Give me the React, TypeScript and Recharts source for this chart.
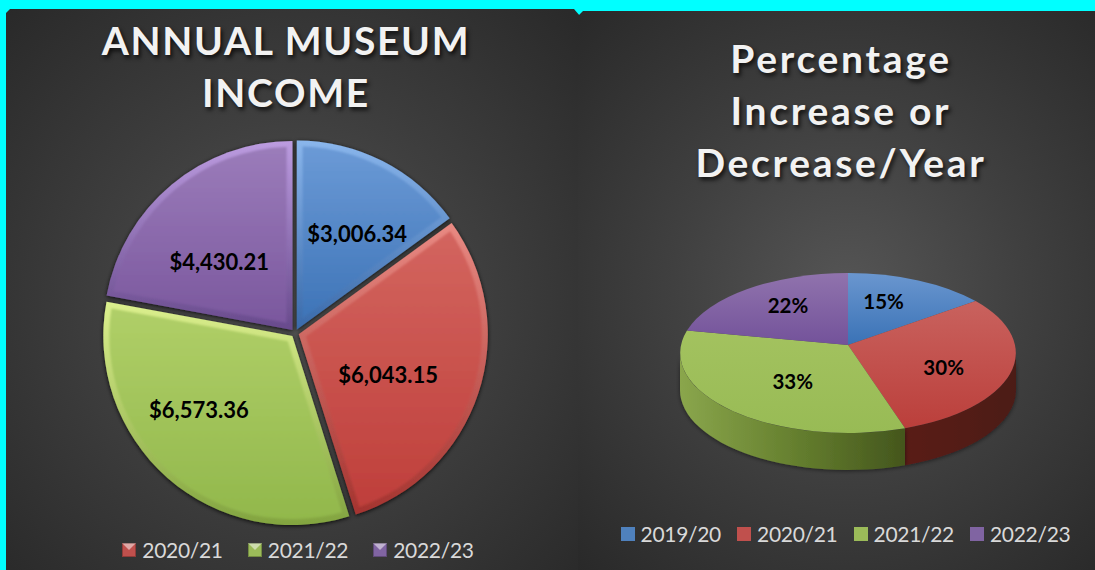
import { Legend, Pie, PieChart } from "recharts";

// Two pies on one dark slide: a bevelled, exploded income pie on the left and a
// tilted 3D percentage pie on the right. The bevel and the tilt are custom Pie
// shapes, the angles still come from the library.

const INCOME_YEARS = ["2019/20", "2020/21", "2021/22", "2022/23"];
const INCOME_VALUES = [3006.34, 6043.15, 6573.36, 4430.21];
const INCOME_LABELS = ["$3,006.34", "$6,043.15", "$6,573.36", "$4,430.21"];

const CHANGE_YEARS = ["2019/20", "2020/21", "2021/22", "2022/23"];
const CHANGE_VALUES = [15, 30, 33, 22];
const CHANGE_LABELS = ["15%", "30%", "33%", "22%"];

const COLORS = ["#4f81bd", "#c0504d", "#9bbb59", "#8064a2"];
const FONT = "Lato, Carlito, 'Open Sans', sans-serif";

// [top, bottom] of each slice face
const FACE = [
  ["#6b9ad6", "#3f75b8"],
  ["#d3655f", "#bf3f3b"],
  ["#b0cf68", "#92b84c"],
  ["#9b7cba", "#7b589e"],
];
const RIM = [
  ["#8ab6ec", "#3a6aaa"],
  ["#e98a83", "#a43430"],
  ["#dcf08e", "#82a440"],
  ["#bc9ce0", "#684a8c"],
];
const FLAT_FACE = [
  ["#6a96cf", "#3a72b6"],
  ["#c9625e", "#bb3f3b"],
  ["#a3c25f", "#98bb55"],
  ["#9073ad", "#73529a"],
];

// label placement: fraction of the radius, and degrees away from the slice middle
const INCOME_LABEL_RADIUS = [0.62, 0.54, 0.65, 0.55];
const INCOME_LABEL_TURN = [5, 6, 10, -7];
const CHANGE_LABEL_RADIUS = [0.63, 0.62, 0.54, 0.65];
const CHANGE_LABEL_TURN = [-6, 8, -5.5, 4];

const incomeData = INCOME_YEARS.map((name, i) => ({
  name,
  value: INCOME_VALUES[i],
  label: INCOME_LABELS[i],
  slot: i,
  fill: COLORS[i],
}));
const changeData = CHANGE_YEARS.map((name, i) => ({
  name,
  value: CHANGE_VALUES[i],
  label: CHANGE_LABELS[i],
  slot: i,
  fill: COLORS[i],
}));

const EXPLODE = 4;
const BEVEL = 6;
const RAD = Math.PI / 180;

// 3D pie: a circle seen in perspective, the far side shrinks a little
const TILT = 0.474;
const PERSPECTIVE = 0.1;
const ELLIPSE_RX = 168;
const ELLIPSE_RY = 80;
const ELLIPSE_DROP = 8;
const DEPTH = 37;

function point(cx: number, cy: number, r: number, deg: number) {
  return { x: cx + r * Math.cos(deg * RAD), y: cy - r * Math.sin(deg * RAD) };
}

function project(cx: number, cy: number, r: number, radius: number, deg: number) {
  const u = radius * Math.cos(deg * RAD);
  const v = radius * Math.sin(deg * RAD);
  const w = 1 + PERSPECTIVE * (v / r);
  return { x: cx + u / w, y: cy - (v * TILT) / w };
}

function wedge(ax: number, ay: number, cx: number, cy: number, r: number, start: number, end: number) {
  const a = point(cx, cy, r, start);
  const b = point(cx, cy, r, end);
  const large = Math.abs(end - start) > 180 ? 1 : 0;
  return `M${ax},${ay}L${a.x},${a.y}A${r},${r} 0 ${large} 1 ${b.x},${b.y}Z`;
}

function BevelSlice(props: any) {
  const { cx, cy, outerRadius, startAngle, endAngle, midAngle, slot } = props;
  const mid = point(cx, cy, EXPLODE, midAngle);
  const half = (Math.abs(startAngle - endAngle) / 2) * RAD;
  const inset = BEVEL / Math.sin(Math.min(half, Math.PI / 2));
  const apex = point(mid.x, mid.y, inset, midAngle);
  const turn = BEVEL / outerRadius / RAD;
  return (
    <g>
      <path
        d={wedge(mid.x, mid.y, mid.x, mid.y, outerRadius, startAngle, endAngle)}
        fill={`url(#rim${slot})`}
        filter="url(#sliceShadow)"
      />
      <path
        d={wedge(apex.x, apex.y, mid.x, mid.y, outerRadius - BEVEL, startAngle - turn, endAngle + turn)}
        fill={`url(#face${slot})`}
        filter="url(#soften)"
      />
    </g>
  );
}

function TiltSlice(props: any) {
  const { cx, cy, outerRadius, startAngle, endAngle, slot } = props;
  const a = project(cx, cy, outerRadius, outerRadius, startAngle);
  const b = project(cx, cy, outerRadius, outerRadius, endAngle);
  const large = Math.abs(endAngle - startAngle) > 180 ? 1 : 0;
  const arc = `A${ELLIPSE_RX},${ELLIPSE_RY} 0 ${large} 1`;
  const top = `M${cx},${cy}L${a.x},${a.y}${arc} ${b.x},${b.y}Z`;

  // only the part of the rim facing the viewer gets a wall
  const right = { x: cx + ELLIPSE_RX, y: cy + ELLIPSE_DROP };
  const left = { x: cx - ELLIPSE_RX, y: cy + ELLIPSE_DROP };
  const hasWall = endAngle < -6 && startAngle > -174;
  const w0 = startAngle > -6 ? right : a;
  const w1 = endAngle < -174 ? left : b;
  const wall = `M${w0.x},${w0.y}A${ELLIPSE_RX},${ELLIPSE_RY} 0 0 1 ${w1.x},${w1.y}L${w1.x},${w1.y + DEPTH}A${ELLIPSE_RX},${ELLIPSE_RY} 0 0 0 ${w0.x},${w0.y + DEPTH}Z`;
  return (
    <g>
      {hasWall && <path d={wall} fill={`url(#wall${slot})`} filter="url(#wallShadow)" />}
      <path d={top} fill={`url(#flat${slot})`} />
    </g>
  );
}

function labelText(x: number, y: number, text: string, size: number) {
  return (
    <text
      x={x}
      y={y}
      textAnchor="middle"
      dominantBaseline="central"
      fontFamily={FONT}
      fontWeight={700}
      fontSize={size}
      fill="#000"
    >
      {text}
    </text>
  );
}

function incomeLabel(props: any) {
  const { cx, cy, outerRadius, midAngle, slot, label } = props;
  const at = point(cx, cy, outerRadius * INCOME_LABEL_RADIUS[slot], midAngle - INCOME_LABEL_TURN[slot]);
  return labelText(at.x, at.y, label, 22);
}

function changeLabel(props: any) {
  const { cx, cy, outerRadius, midAngle, slot, label } = props;
  const at = project(cx, cy, outerRadius, outerRadius * CHANGE_LABEL_RADIUS[slot], midAngle - CHANGE_LABEL_TURN[slot]);
  return labelText(at.x, at.y, label, 20.5);
}

function LegendRow({ payload, skip, gap, bevel }: any) {
  const rows = (payload || []).filter((p: any) => p.value !== skip);
  return (
    <div style={{ display: "flex", justifyContent: "center", gap }}>
      {rows.map((p: any) => (
        <div key={p.value} style={{ display: "flex", alignItems: "center", gap: 6 }}>
          <svg width={14} height={14}>
            <rect width={14} height={14} fill={p.color} />
            {bevel && <path d="M0,0H14L7,7Z" fill="#fff" opacity={0.5} />}
            {bevel && <rect x={0.5} y={0.5} width={13} height={13} fill="none" stroke="#000" strokeOpacity={0.25} />}
          </svg>
          <span style={{ fontFamily: FONT, fontSize: 21, letterSpacing: -0.3, color: "#d9d9d9", lineHeight: "24px" }}>
            {p.value}
          </span>
        </div>
      ))}
    </div>
  );
}

const titleStyle = {
  position: "absolute",
  textAlign: "center",
  fontFamily: FONT,
  fontWeight: 700,
  color: "#f2f2f2",
  fontSize: 39,
  lineHeight: "52px",
  textShadow: "2px 3px 4px rgba(0,0,0,0.75)",
  whiteSpace: "pre-line",
} as const;

export default function App() {
  return (
    <div style={{ position: "absolute", left: 0, top: 0, width: 1095, height: 570, background: "#00ffff", overflow: "hidden" }}>
      <div
        style={{
          position: "absolute",
          left: 6,
          top: 9,
          width: 574,
          height: 561,
          background: "radial-gradient(circle at 50% 52%, #535353 0%, #3f3f3f 45%, #292929 100%)",
          clipPath: "polygon(4px 0, 568px 0, 574px 7px, 574px 100%, 0 100%, 0 4px)",
        }}
      />
      <div
        style={{
          position: "absolute",
          left: 578,
          top: 11,
          width: 517,
          height: 559,
          background: "radial-gradient(circle at 52% 50%, #555555 0%, #404040 45%, #292929 100%)",
          clipPath: "polygon(5px 0, 100% 0, 100% 100%, 0 100%, 0 4px, 1px 4px)",
        }}
      />

      <div style={{ ...titleStyle, left: 6, top: 14, width: 560, letterSpacing: 1.7 }}>{"ANNUAL MUSEUM\nINCOME"}</div>
      <div style={{ ...titleStyle, left: 578, top: 32, width: 526, letterSpacing: 2.7 }}>
        {"Percentage\nIncrease or\nDecrease/Year"}
      </div>

      <div style={{ position: "absolute", left: 0, top: 0 }}>
        <PieChart width={578} height={570} margin={{ top: 0, right: 0, bottom: 0, left: 0 }}>
          <defs>
            {FACE.map((c, i) => (
              <linearGradient key={i} id={`face${i}`} x1="0" y1="0" x2="0" y2="1">
                <stop offset="0" stopColor={c[0]} />
                <stop offset="1" stopColor={c[1]} />
              </linearGradient>
            ))}
            {RIM.map((c, i) => (
              <linearGradient key={i} id={`rim${i}`} x1="0" y1="0" x2="0" y2="1">
                <stop offset="0" stopColor={c[0]} />
                <stop offset="1" stopColor={c[1]} />
              </linearGradient>
            ))}
            <filter id="sliceShadow" x="-10%" y="-10%" width="120%" height="120%">
              <feDropShadow dx="0" dy="1" stdDeviation="2" floodColor="#000" floodOpacity="0.85" />
            </filter>
            <filter id="soften" x="-5%" y="-5%" width="110%" height="110%">
              <feGaussianBlur stdDeviation="1.2" />
            </filter>
          </defs>
          <Pie
            data={incomeData}
            dataKey="value"
            nameKey="name"
            cx={295}
            cy={333}
            outerRadius={189}
            startAngle={90}
            endAngle={-270}
            stroke="none"
            shape={BevelSlice}
            label={incomeLabel}
            labelLine={false}
            isAnimationActive={false}
          />
          <Legend
            content={<LegendRow skip="2019/20" gap={25} bevel />}
            wrapperStyle={{ position: "absolute", left: 0, top: 538, width: 596 }}
          />
        </PieChart>
      </div>

      <div style={{ position: "absolute", left: 578, top: 0 }}>
        <PieChart width={517} height={570} margin={{ top: 0, right: 0, bottom: 0, left: 0 }}>
          <defs>
            {FLAT_FACE.map((c, i) => (
              <linearGradient key={i} id={`flat${i}`} x1="0" y1="0" x2="0" y2="1">
                <stop offset="0" stopColor={c[0]} />
                <stop offset="1" stopColor={c[1]} />
              </linearGradient>
            ))}
            <linearGradient id="wall1" x1="0" y1="0" x2="1" y2="0">
              <stop offset="0" stopColor="#5a1b19" />
              <stop offset="1" stopColor="#4c1a18" />
            </linearGradient>
            <linearGradient id="wall2" x1="0" y1="0" x2="1" y2="0">
              <stop offset="0" stopColor="#8aa64c" />
              <stop offset="0.5" stopColor="#66802f" />
              <stop offset="1" stopColor="#44561d" />
            </linearGradient>
            <filter id="wallShadow" x="-10%" y="-10%" width="120%" height="130%">
              <feDropShadow dx="0" dy="1" stdDeviation="2" floodColor="#000" floodOpacity="0.5" />
            </filter>
          </defs>
          <Pie
            data={changeData}
            dataKey="value"
            nameKey="name"
            cx={270}
            cy={345}
            outerRadius={167}
            startAngle={90}
            endAngle={-270}
            stroke="none"
            shape={TiltSlice}
            label={changeLabel}
            labelLine={false}
            isAnimationActive={false}
          />
          <Legend
            content={<LegendRow gap={16} />}
            wrapperStyle={{ position: "absolute", left: 0, top: 522, width: 535 }}
          />
        </PieChart>
      </div>
    </div>
  );
}
